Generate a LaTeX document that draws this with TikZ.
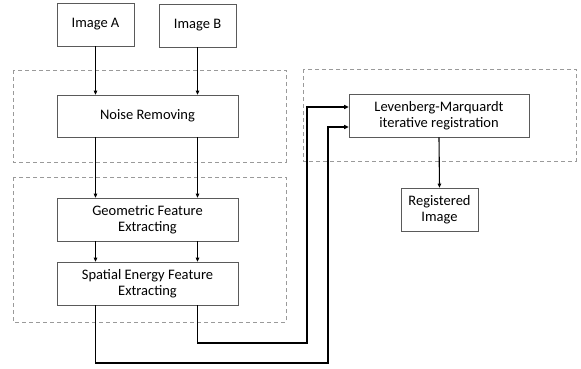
\documentclass[tikz,border=0pt]{standalone}
\usepackage{fontspec}
\setmainfont{Carlito}
\usepackage{tikz}
\usetikzlibrary{arrows.meta, positioning, calc}
\definecolor{boxLine}{HTML}{5A5A5A}
\definecolor{groupLine}{HTML}{9A9A9A}

\begin{document}
\begin{tikzpicture}[
    x=1pt, y=-1pt,
    procbox/.style={rectangle, draw=boxLine, line width=0.7pt, fill=white,
                 minimum height=43pt, align=center, inner sep=2pt,
                 font=\fontsize{14.5}{16.5}\selectfont},
    group/.style={draw=groupLine, dashed, line width=0.8pt, dash pattern=on 4pt off 3pt},
    arr/.style={-{Triangle[length=4pt, width=3.5pt]}, line width=1.1pt},
    longarr/.style={-{Triangle[length=4.5pt, width=4pt]}, line width=1.7pt},
  ]
    \useasboundingbox (0,0) rectangle (581,368);

    % dashed groups
    \draw[group] (13,70) rectangle (286,162);
    \draw[group] (13,177) rectangle (286,322);
    \draw[group] (303,69) rectangle (576,161);

    % boxes
    \node[procbox, minimum width=77pt] (imgA) at (95.5,24.5) {Image A};
    \node[procbox, minimum width=77pt] (imgB) at (197.5,25.5) {Image B};
    \node[procbox, minimum width=181pt, minimum height=42pt] (noise) at (147.5,116) {Noise Removing};
    \node[procbox, minimum width=181pt] (geo) at (147.5,219.5) {Geometric Feature\\Extracting};
    \node[procbox, minimum width=181pt] (spatial) at (147.5,283.5) {Spatial Energy Feature\\Extracting};
    \node[procbox, minimum width=180pt] (lm) at (439,115.5) {Levenberg-Marquardt\\iterative registration};
    \node[procbox, minimum width=77pt] (reg) at (439.5,209.5) {Registered\\Image};

    % turning points of the long connectors
    \coordinate (outer) at (328,363);
    \coordinate (inner) at (307,343);

    % arrows
    \draw[arr] (imgA.south) -- (imgA.south |- noise.north);
    \draw[arr] (imgB.south) -- (imgB.south |- noise.north);
    \draw[arr] (noise.south -| imgA.south) -- (geo.north -| imgA.south);
    \draw[arr] (noise.south -| imgB.south) -- (geo.north -| imgB.south);
    \draw[arr] (geo.south -| imgA.south) -- (spatial.north -| imgA.south);
    \draw[arr] (geo.south -| imgB.south) -- (spatial.north -| imgB.south);
    \draw[longarr] (spatial.south -| imgA.south) |- (outer) |- ([yshift=-11.5pt]lm.west);
    \draw[longarr] (spatial.south -| imgB.south) |- (inner) |- ([yshift=8.5pt]lm.west);
    \draw[arr] (lm.south) -- (reg.north);
  \end{tikzpicture}
\end{document}
